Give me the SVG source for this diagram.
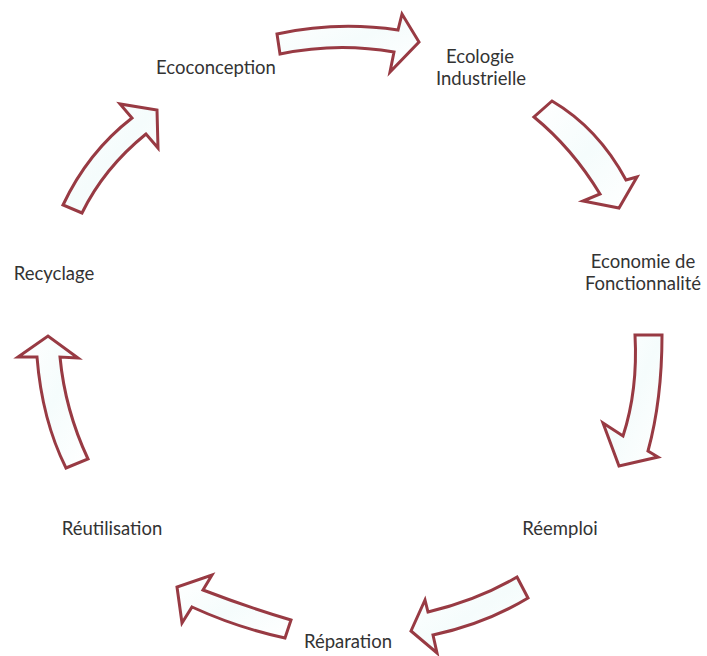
<svg xmlns="http://www.w3.org/2000/svg" width="707" height="656" viewBox="0 0 707 656">
<defs>
<linearGradient id="fillg" x1="0" y1="0" x2="1" y2="1">
<stop offset="0" stop-color="#ffffff"/>
<stop offset="0.5" stop-color="#f5fcfc"/>
<stop offset="1" stop-color="#ffffff"/>
</linearGradient>
<style>
.lbl{font-family:Lato,"Liberation Sans",sans-serif;font-size:18.5px;fill:#333333;text-anchor:middle}
.arr{fill:url(#fillg);stroke:#983a43;stroke-width:3;stroke-linejoin:miter}
</style>
</defs>
<rect width="707" height="656" fill="#ffffff"/>
<g id="connectors">
<path class="arr" d="M277,34 Q337,21 398,30 L402,14 L419,42 L390,72 L394,52 Q337,42 280,54 Z"/>
<path class="arr" d="M552,101 Q598,128 626,180 L637,177 L619,208 L583,201 L600,194 Q572,148 534,117 Z"/>
<path class="arr" d="M635,335 L662,335 Q662,400 648,451 L658,457 L619,466 L603,423 L623,436 Q638,390 635,335 Z"/>
<path class="arr" d="M517,577 L528,598 Q485,624 433,635 L437,653 L411,631 L425,600 L428,612 Q478,600 517,577 Z"/>
<path class="arr" d="M291,620 Q250,608 203,590 L212,575 L177,587 L182,623 L192,607 Q238,628 285,638 Z"/>
<path class="arr" d="M66,468 Q42,420 37,357 L18,357 L48,336 L78,358 L60,357 Q65,410 88,459 Z"/>
<path class="arr" d="M63,205 Q88,152 132,118 L120,104 L157,110 L158,148 L146,134 Q104,168 82,213 Z"/>
</g>
<g id="ecoconception"><text class="lbl" x="216" y="74">Ecoconception</text></g>
<g id="ecologie-industrielle"><text class="lbl" x="480" y="63">Ecologie</text><text class="lbl" x="481" y="85">Industrielle</text></g>
<g id="economie-fonctionnalite"><text class="lbl" x="643" y="268">Economie de</text><text class="lbl" x="643" y="290">Fonctionnalité</text></g>
<g id="reemploi"><text class="lbl" x="560" y="535">Réemploi</text></g>
<g id="reparation"><text class="lbl" x="348" y="648">Réparation</text></g>
<g id="reutilisation"><text class="lbl" x="112" y="535">Réutilisation</text></g>
<g id="recyclage"><text class="lbl" x="54" y="280">Recyclage</text></g>
</svg>
